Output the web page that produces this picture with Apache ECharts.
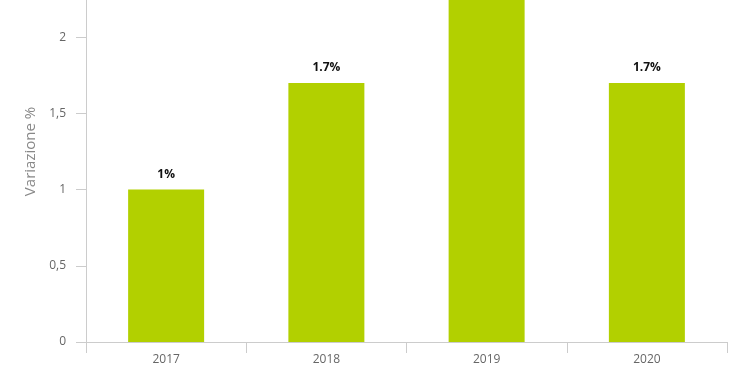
<!DOCTYPE html>
<html>
<head>
<meta charset="utf-8">
<script src="https://cdn.jsdelivr.net/npm/echarts@6/dist/echarts.min.js"></script>
<style>html,body{margin:0;padding:0;background:#fff;overflow:hidden;width:740px;height:389px;position:relative}#c{position:absolute;left:0;top:-40px;width:740px;height:429px}</style>
</head>
<body>
<div id="c"></div>
<script>
const categories = ['2017', '2018', '2019', '2020'];
const values = [1.0, 1.7, 2.4, 1.7];
const yTicks = [0, 0.5, 1, 1.5, 2, 2.5];

const chart = echarts.init(document.getElementById('c'), null, {renderer: 'canvas', width: 740, height: 429});
chart.setOption({
  animation: false,
  textStyle: {fontFamily: 'Open Sans'},
  grid: {left: 86, right: 13, top: 1, bottom: 47, containLabel: false, outerBoundsMode: 'none'},
  xAxis: {
    type: 'category',
    data: categories,
    axisLine: {lineStyle: {color: '#cccccc', width: 1}},
    axisTick: {show: true, length: 11, lineStyle: {color: '#cccccc'}},
    axisLabel: {color: '#666666', fontSize: 12, margin: 12, fontFamily: 'Open Sans'}
  },
  yAxis: {
    type: 'value',
    min: yTicks[0],
    max: yTicks[yTicks.length - 1],
    interval: 0.5,
    name: 'Variazione %',
    nameLocation: 'middle',
    nameGap: 48,
    nameTextStyle: {color: '#888888', fontSize: 15, fontFamily: 'Open Sans'},
    axisLine: {show: true, lineStyle: {color: '#cccccc', width: 1}},
    axisTick: {show: true, length: 10, lineStyle: {color: '#cccccc'}},
    splitLine: {show: false},
    axisLabel: {
      color: '#666666', fontSize: 12, margin: 20, fontFamily: 'Open Sans',
      formatter: v => String(v).replace('.', ',')
    }
  },
  series: [{
    type: 'bar',
    data: values,
    barWidth: 76,
    itemStyle: {color: '#b2d000'},
    label: {
      show: true, position: 'top', distance: 9,
      color: '#111111', fontWeight: 'bold', fontSize: 12, fontFamily: 'Open Sans',
      formatter: p => p.value + '%'
    }
  }]
});
</script>
</body>
</html>
